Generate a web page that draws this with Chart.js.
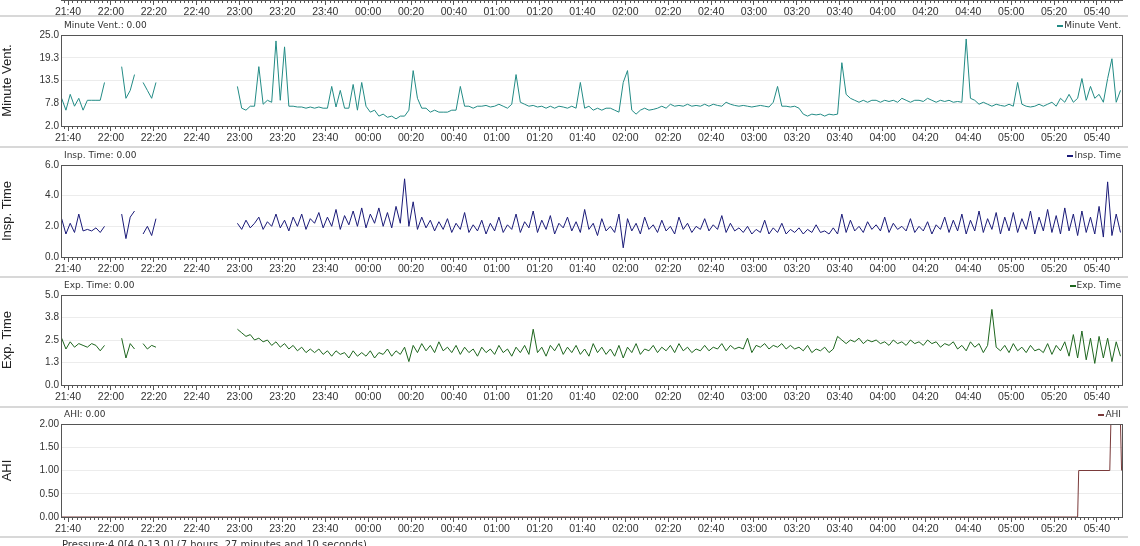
<!DOCTYPE html>
<html>
<head>
<meta charset="UTF-8">
<title>Sleep Chart</title>
<script src="https://cdn.jsdelivr.net/npm/chart.js"></script>
<style>
  body { margin: 0; background: #fff; font-family: "DejaVu Sans", Verdana, sans-serif; overflow: hidden; }
  #wrap { position: relative; width: 1140px; height: 546px; }
  canvas { position: absolute; left: 0; }
  .sep { position: absolute; left: 0; width: 1128px; height: 2px; background: #d8d8d8; }
  .lbl { position: absolute; font-size: 9px; color: #333; white-space: nowrap; z-index: 2; }
  .leg { position: absolute; right: 19px; font-size: 9px; color: #333; white-space: nowrap; z-index: 2; }
  .leg b { display: inline-block; width: 6px; height: 2px; vertical-align: middle; margin-right: 1px; }
  .foot { position: absolute; left: 62px; top: 539px; font-size: 10px; color: #333; }
</style>
</head>
<body>
<div id="wrap">
  <canvas id="c0" style="top:-14px" width="1140" height="34"></canvas>
  <div class="sep" style="top:15px"></div>
  <div class="lbl" style="left:64px;top:20px">Minute Vent.: 0.00</div>
  <div class="leg" style="top:20px"><b style="background:#228b85"></b>Minute Vent.</div>
  <canvas id="c1" style="top:27px" width="1140" height="119"></canvas>
  <div class="sep" style="top:146px"></div>
  <div class="lbl" style="left:64px;top:150px">Insp. Time: 0.00</div>
  <div class="leg" style="top:150px"><b style="background:#1a1a78"></b>Insp. Time</div>
  <canvas id="c2" style="top:157px" width="1140" height="120"></canvas>
  <div class="sep" style="top:276px"></div>
  <div class="lbl" style="left:64px;top:280px">Exp. Time: 0.00</div>
  <div class="leg" style="top:280px"><b style="background:#1e661e"></b>Exp. Time</div>
  <canvas id="c3" style="top:287px" width="1140" height="118"></canvas>
  <div class="sep" style="top:406px"></div>
  <div class="lbl" style="left:64px;top:409px">AHI: 0.00</div>
  <div class="leg" style="top:409px"><b style="background:#7a3a3a"></b>AHI</div>
  <canvas id="c4" style="top:416px" width="1140" height="121"></canvas>
  <div class="sep" style="top:536px"></div>
  <div class="foot">Pressure:4.0[4.0-13.0] (7 hours, 27 minutes and 10 seconds)</div>
</div>
<script>
// minutes after 21:00, one sample every 2 minutes starting at 21:37
const startMin = 37;
const stepMin = 2;
const xMin = 36.7, xMax = 531.7;
const majorTicks = [40, 60, 80, 100, 120, 140, 160, 180, 200, 220, 240, 260, 280, 300, 320, 340, 360, 380, 400, 420, 440, 460, 480, 500, 520];

const minuteVent = [
  9, 6, 10, 7, 9, 6, 8.5, 8.5, 8.5, 8.5,
  13, null, null, null, 17, 9, 11, 15, null, 13,
  11, 9, 13, null, null, null, null, null, null, null,
  null, null, null, null, null, null, null, null, null, null,
  null, 12, 6.5, 6, 7, 7, 17, 7.5, 8.5, 8,
  23.5, 8.5, 22, 7, 7, 6.8, 6.8, 6.5, 6.8, 6.5,
  6.8, 6.5, 6.5, 12, 6.8, 11, 6.5, 6.5, 12.5, 6,
  13, 7, 5.5, 6, 4.5, 5, 4.2, 4.5, 3.8, 4.5,
  4.5, 6, 16, 9, 6.5, 6.5, 5.5, 6, 5.5, 5.5,
  5.5, 6, 6, 12, 7, 7, 6.5, 7, 7, 7.2,
  6.8, 7, 7.5, 7, 6.5, 7.5, 15, 8, 7.5, 7,
  7.2, 6.8, 7, 6.5, 7, 6.5, 7, 6.8, 6.5, 7,
  6.5, 13, 6.5, 7, 6, 6.5, 6, 6.5, 6.5, 6,
  5.5, 13, 16, 6, 5, 6, 6.5, 6, 6.2, 6.5,
  7, 6.5, 7.5, 7, 7.2, 7, 7.5, 7, 7.2, 7,
  7.5, 7, 7.5, 7.2, 7, 8, 7.5, 7.2, 7, 7.2,
  7, 6.8, 7, 7.2, 7, 6.8, 8, 12, 7, 7,
  6.8, 7, 6.5, 5, 4.5, 5, 4.8, 5, 4.5, 5,
  4.8, 5, 18, 10, 9, 8.5, 8, 8.5, 8, 8.5,
  8.5, 8, 8.5, 8.2, 8.5, 8, 9, 8.5, 8, 8.5,
  8.5, 8.2, 9, 8.5, 8, 8.5, 8.2, 8.5, 8, 8.2,
  8, 24, 9, 8.5, 7.5, 8, 7.5, 7, 7.5, 7.2,
  7, 7.5, 7, 13, 7.5, 7, 6.8, 7, 7.5, 7,
  7.5, 8, 7, 9, 8, 10, 8, 9, 14, 8.5,
  12, 9, 10, 8, 14, 19, 8, 11
];

const inspTime = [
  2.5, 1.5, 2.2, 1.6, 2.8, 1.7, 1.8, 1.7, 1.9, 1.6,
  2.0, null, null, null, 2.8, 1.2, 2.6, 3.0, null, 1.5,
  2.0, 1.4, 2.5, null, null, null, null, null, null, null,
  null, null, null, null, null, null, null, null, null, null,
  null, 2.2, 1.8, 2.4, 1.9, 2.2, 2.6, 1.8, 2.3, 2.0,
  2.8, 1.9, 2.4, 1.7, 2.6, 2.0, 2.8, 1.8, 2.5, 2.2,
  2.9, 1.9, 2.6, 2.0, 3.1, 1.8, 2.7, 2.1, 3.0, 2.0,
  3.2, 1.9, 2.8, 2.2, 3.2, 2.0, 2.9, 1.9, 3.3, 2.2,
  5.1, 2.0, 3.6, 1.8, 2.6, 1.9, 2.4, 1.7, 2.3, 1.8,
  2.5, 1.6, 2.2, 1.8, 2.9, 1.6, 2.1, 1.7, 2.4, 1.5,
  2.2, 1.7, 2.6, 1.6, 2.1, 1.8, 2.8, 1.6, 2.3, 1.9,
  3.0, 1.6, 2.4, 1.8, 2.7, 1.5, 2.2, 1.9, 2.6, 1.7,
  2.3, 1.6, 3.1, 1.8, 2.2, 1.4, 2.5, 1.7, 2.0, 1.6,
  2.8, 0.6, 2.5, 1.7, 2.2, 1.5, 2.6, 1.8, 2.1, 1.6,
  2.4, 1.7, 2.0, 1.5, 2.6, 1.8, 2.2, 1.6, 2.0, 1.8,
  2.5, 1.7, 2.1, 1.8, 2.7, 1.6, 2.2, 1.7, 1.9, 1.6,
  2.0, 1.5, 1.8, 1.6, 2.4, 1.5, 1.9, 1.6, 2.2, 1.5,
  1.8, 1.6, 1.9, 1.5, 1.8, 1.6, 2.1, 1.6, 1.7, 1.5,
  1.9, 1.5, 2.8, 1.6, 2.4, 1.7, 2.0, 1.6, 2.3, 1.8,
  2.1, 1.7, 2.6, 1.6, 2.2, 1.8, 2.0, 1.7, 2.5, 1.6,
  2.0, 1.7, 2.3, 1.5, 2.1, 1.8, 2.6, 1.6, 2.4, 1.7,
  2.8, 1.5, 2.4, 1.7, 3.0, 1.6, 2.5, 1.8, 2.9, 1.5,
  2.6, 1.7, 2.9, 1.6, 2.5, 1.8, 3.0, 1.5, 2.6, 1.7,
  3.1, 1.6, 2.7, 1.5, 3.2, 1.7, 2.8, 1.4, 3.0, 1.6,
  2.6, 1.5, 3.3, 1.3, 4.9, 1.4, 2.8, 1.6
];

const expTime = [
  2.6, 2.0, 2.4, 2.1, 2.3, 2.2, 2.1, 2.3, 2.2, 1.9,
  2.2, null, null, null, 2.6, 1.5, 2.3, 2.0, null, 2.3,
  2.0, 2.2, 2.1, null, null, null, null, null, null, null,
  null, null, null, null, null, null, null, null, null, null,
  null, 3.1, 2.9, 2.7, 2.8, 2.5, 2.6, 2.4, 2.5, 2.2,
  2.4, 2.1, 2.3, 2.0, 2.2, 1.9, 2.1, 1.8, 2.0, 1.8,
  2.0, 1.7, 1.9, 1.6, 1.9, 1.7, 1.8, 1.5, 1.9, 1.6,
  1.8, 1.6, 1.9, 1.5, 1.8, 1.7, 2.0, 1.6, 1.9, 1.7,
  2.1, 1.3, 2.2, 1.8, 2.3, 1.9, 2.2, 1.8, 2.4, 1.9,
  2.1, 1.8, 2.2, 1.7, 2.1, 1.8, 2.0, 1.6, 2.1, 1.8,
  2.0, 1.7, 2.2, 1.8, 2.0, 1.6, 2.1, 1.8, 2.2, 1.7,
  3.1, 1.8, 2.1, 1.6, 2.2, 1.9, 2.3, 1.7, 2.1, 1.8,
  2.2, 1.7, 2.0, 1.6, 2.3, 1.8, 2.1, 1.7, 2.0, 1.6,
  2.2, 1.5, 2.1, 1.8, 2.3, 1.7, 2.0, 1.9, 2.2, 1.8,
  2.1, 1.9, 2.2, 1.8, 2.3, 1.9, 2.1, 1.8, 2.0, 1.9,
  2.2, 1.9, 2.1, 2.0, 2.3, 1.9, 2.2, 2.0, 2.1, 2.0,
  2.6, 1.8, 2.2, 2.1, 2.3, 2.0, 2.2, 2.1, 2.3, 2.0,
  2.2, 2.0, 2.1, 1.9, 2.2, 1.8, 2.0, 1.9, 2.1, 1.8,
  2.0, 2.7, 2.5, 2.3, 2.5, 2.4, 2.6, 2.3, 2.5, 2.4,
  2.5, 2.3, 2.4, 2.2, 2.5, 2.3, 2.4, 2.2, 2.5, 2.3,
  2.4, 2.2, 2.5, 2.3, 2.4, 2.1, 2.3, 2.2, 2.4, 2.0,
  2.2, 1.9, 2.4, 2.1, 2.3, 1.8, 2.2, 4.2, 2.1, 1.9,
  2.2, 1.8, 2.3, 1.9, 2.1, 1.8, 2.2, 1.9, 2.0, 1.8,
  2.3, 1.7, 2.2, 1.9, 2.4, 1.6, 2.8, 1.5, 3.0, 1.4,
  2.6, 1.2, 2.7, 1.5, 2.6, 1.3, 2.4, 1.6
];

const ahiTimes = [37, 511, 511.5, 526, 526.5, 531, 531.5];
const ahiValues = [0, 0, 1, 1, 2, 2, 1];

function toPoints(values) {
  return values.map((v, i) => ({ x: startMin + i * stepMin, y: v }));
}

function clock(m) {
  const t = (21 * 60 + m) % 1440;
  return String(Math.floor(t / 60)).padStart(2, '0') + ':' + String(t % 60).padStart(2, '0');
}

// small minor ticks under the x axis, every 2 minutes
const minorTicks = {
  id: 'minorTicks',
  afterDraw(chart) {
    const x = chart.scales.x;
    const ctx = chart.ctx;
    ctx.save();
    ctx.strokeStyle = '#555';
    ctx.lineWidth = 1;
    for (let m = 38; m < xMax; m += 2) {
      if (m % 20 === 0) continue;
      const px = Math.round(x.getPixelForValue(m)) + 0.5;
      ctx.beginPath();
      ctx.moveTo(px, x.top);
      ctx.lineTo(px, x.top + 3);
      ctx.stroke();
    }
    ctx.restore();
  }
};

function makePanel(id, data, color, yOpts, title, stepped) {
  const showY = yOpts !== null;
  return new Chart(document.getElementById(id), {
    type: 'line',
    data: { datasets: [{ data: data, borderColor: color, borderWidth: 1, pointRadius: 0, spanGaps: false, stepped: stepped || false, tension: 0 }] },
    options: {
      responsive: false,
      animation: false,
      layout: { padding: { top: 1, right: 18, left: 0, bottom: 0 } },
      plugins: { legend: { display: false }, tooltip: { enabled: false } },
      scales: {
        x: {
          type: 'linear', min: xMin, max: xMax,
          afterBuildTicks: s => { s.ticks = majorTicks.map(v => ({ value: v })); },
          afterFit: s => { s.height = 20; },
          ticks: { callback: v => clock(v), font: { size: 10.5, family: 'Liberation Sans' }, color: '#333', maxRotation: 0, autoSkip: false, padding: 1 },
          grid: { drawOnChartArea: false, drawTicks: true, tickLength: 5, color: '#555' },
          border: { color: '#555' }
        },
        y: showY ? {
          min: yOpts.min, max: yOpts.max,
          afterBuildTicks: s => { s.ticks = yOpts.ticks.map(v => ({ value: v })); },
          afterFit: s => { s.width = 61; },
          ticks: { callback: v => v.toFixed(yOpts.dec), font: { size: 10, family: 'Liberation Sans' }, color: '#333', padding: 2 },
          grid: { color: '#ececec', drawTicks: false },
          border: { color: '#555' },
          title: { display: true, text: title, font: { size: 13, family: 'Liberation Sans' }, color: '#222', padding: { top: 0, bottom: 8 } }
        } : { display: false, afterFit: s => { s.width = 61; } }
      }
    },
    plugins: [minorTicks, {
      id: 'frame',
      afterDraw(chart) {
        if (!showY) return;
        const a = chart.chartArea, ctx = chart.ctx;
        ctx.save();
        ctx.strokeStyle = '#555';
        ctx.strokeRect(a.left + 0.5, a.top + 0.5, a.right - a.left, a.bottom - a.top);
        ctx.restore();
      }
    }]
  });
}

makePanel('c0', [], '#000', null, '');
makePanel('c1', toPoints(minuteVent), '#228b85', { min: 2, max: 25, ticks: [2, 7.75, 13.5, 19.25, 25], dec: 1 }, 'Minute Vent.');
makePanel('c2', toPoints(inspTime), '#1a1a78', { min: 0, max: 6, ticks: [0, 2, 4, 6], dec: 1 }, 'Insp. Time');
makePanel('c3', toPoints(expTime), '#1e661e', { min: 0, max: 5, ticks: [0, 1.25, 2.5, 3.75, 5], dec: 1 }, 'Exp. Time');
makePanel('c4', ahiTimes.map((t, i) => ({ x: t, y: ahiValues[i] })), '#7a3a3a', { min: 0, max: 2, ticks: [0, 0.5, 1, 1.5, 2], dec: 2 }, 'AHI');
</script>
</body>
</html>
